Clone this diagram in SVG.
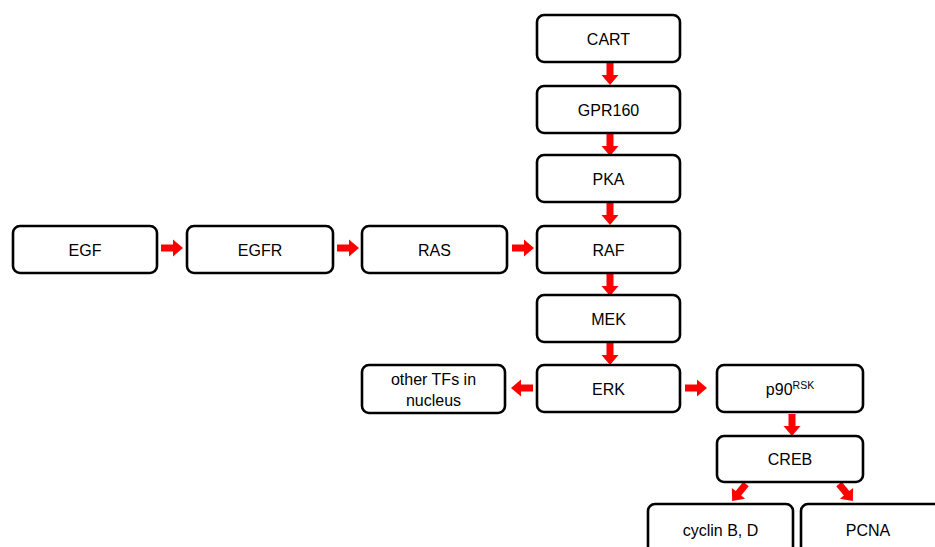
<svg xmlns="http://www.w3.org/2000/svg" xmlns:xlink="http://www.w3.org/1999/xlink" width="935" height="547" viewBox="0 0 935 547">
<style>
.box{fill:#fff;stroke:#000;stroke-width:2.6}
.lbl{font-family:"Liberation Sans",Arial,sans-serif;font-size:16px;fill:#000;text-anchor:middle}
.arr{fill:#f00;stroke:none}
</style>
<defs>
<path id="a" d="M0,-3.5 H12 V-8.5 L22,0 L12,8.5 V3.5 H0 Z"/>
</defs>
<rect width="935" height="547" fill="#fff"/>
<g id="connectors" class="arr">
<use href="#a" xlink:href="#a" transform="translate(610,63) rotate(90)"/>
<use href="#a" xlink:href="#a" transform="translate(610,134) rotate(90)"/>
<use href="#a" xlink:href="#a" transform="translate(610,203) rotate(90)"/>
<use href="#a" xlink:href="#a" transform="translate(610,274) rotate(90)"/>
<use href="#a" xlink:href="#a" transform="translate(610,343) rotate(90)"/>
<use href="#a" xlink:href="#a" transform="translate(161,248)"/>
<use href="#a" xlink:href="#a" transform="translate(337,248)"/>
<use href="#a" xlink:href="#a" transform="translate(512,248)"/>
<use href="#a" xlink:href="#a" transform="translate(533,388) rotate(180)"/>
<use href="#a" xlink:href="#a" transform="translate(685,388)"/>
<use href="#a" xlink:href="#a" transform="translate(792,414) rotate(90)"/>
<use href="#a" xlink:href="#a" transform="translate(746,484) rotate(129)"/>
<use href="#a" xlink:href="#a" transform="translate(839,484) rotate(51)"/>
</g>
<g id="CART"><rect class="box" x="537" y="15" width="143" height="47" rx="7"/><text class="lbl" x="608.5" y="45">CART</text></g>
<g id="GPR160"><rect class="box" x="537" y="86" width="143" height="47" rx="7"/><text class="lbl" x="608.5" y="116">GPR160</text></g>
<g id="PKA"><rect class="box" x="537" y="155" width="143" height="47" rx="7"/><text class="lbl" x="608.5" y="185">PKA</text></g>
<g id="RAF"><rect class="box" x="537" y="226" width="143" height="47" rx="7"/><text class="lbl" x="608.5" y="256">RAF</text></g>
<g id="MEK"><rect class="box" x="537" y="295" width="143" height="47" rx="7"/><text class="lbl" x="608.5" y="325">MEK</text></g>
<g id="ERK"><rect class="box" x="537" y="365" width="143" height="47" rx="7"/><text class="lbl" x="608.5" y="395">ERK</text></g>
<g id="EGF"><rect class="box" x="13" y="226" width="144" height="47" rx="7"/><text class="lbl" x="85" y="256">EGF</text></g>
<g id="EGFR"><rect class="box" x="187" y="226" width="146" height="47" rx="7"/><text class="lbl" x="260" y="256">EGFR</text></g>
<g id="RAS"><rect class="box" x="362" y="226" width="145" height="47" rx="7"/><text class="lbl" x="434.5" y="256">RAS</text></g>
<g id="otherTFs"><rect class="box" x="362" y="365" width="143" height="48" rx="7"/><text class="lbl" x="433.5" y="385">other TFs in</text><text class="lbl" x="433.5" y="406">nucleus</text></g>
<g id="p90RSK"><rect class="box" x="717" y="365" width="146" height="47" rx="7"/><text class="lbl" x="790" y="395">p90<tspan font-size="10.5" dy="-6.5">RSK</tspan></text></g>
<g id="CREB"><rect class="box" x="717" y="436" width="146" height="46" rx="7"/><text class="lbl" x="790" y="465">CREB</text></g>
<g id="cyclin"><rect class="box" x="648" y="504" width="145" height="60" rx="7"/><text class="lbl" x="720.5" y="536">cyclin B, D</text></g>
<g id="PCNA"><rect class="box" x="801" y="504" width="150" height="60" rx="7"/><text class="lbl" x="868" y="536">PCNA</text></g>
</svg>
